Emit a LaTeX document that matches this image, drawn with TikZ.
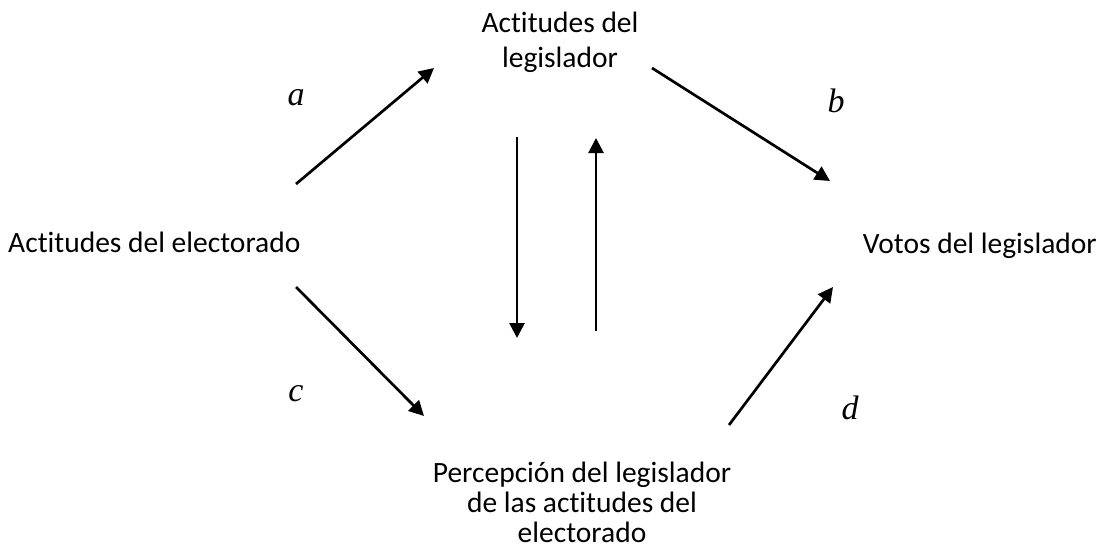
\documentclass[tikz,border=0pt]{standalone}
\usepackage{fontspec}
\setmainfont{Carlito}[RawFeature=-liga]
\newfontfamily\lettfont{Liberation Serif}
\usetikzlibrary{arrows.meta}
\begin{document}
\begin{tikzpicture}[x=1pt,y=-1pt,
  lbl/.style={font=\fontsize{29.5}{30}\selectfont, align=center, inner sep=0pt},
  lett/.style={font=\lettfont\itshape\fontsize{34}{34}\selectfont, inner sep=0pt},
  arr/.style={line width=2.7pt, -{Triangle[length=15pt,width=15pt]}}]
\useasboundingbox (0,0) rectangle (1107,557);
\node[lbl, font=\fontsize{29.5}{35}\selectfont] (leg) at (560,42) {Actitudes del\\legislador};
\node[lbl, anchor=base west] (elec) at (8,252) {Actitudes del electorado};
\node[lbl, anchor=base east] (votos) at (1097,253) {Votos del legislador};
\node[lbl] (perc) at (582,502) {Percepción del legislador\\de las actitudes del\\electorado};
\node[lett] (la) at (296,98) {a};
\node[lett] (lb) at (836,101) {b};
\node[lett] (lc) at (296,394) {c};
\node[lett] (ld) at (850,408) {d};
\coordinate (a1) at (296,184); \coordinate (a2) at (434,68);
\coordinate (b1) at (652,68); \coordinate (b2) at (830,181);
\coordinate (c1) at (296,287); \coordinate (c2) at (424,416);
\coordinate (d1) at (729,425); \coordinate (d2) at (833,287);
\coordinate (e1) at (517,137); \coordinate (e2) at (517,338);
\coordinate (f1) at (596,331); \coordinate (f2) at (596,138);
\draw[arr] (a1) -- (a2);
\draw[arr] (b1) -- (b2);
\draw[arr] (c1) -- (c2);
\draw[arr] (d1) -- (d2);
\draw[arr] (e1) -- (e2);
\draw[arr] (f1) -- (f2);
\end{tikzpicture}
\end{document}
